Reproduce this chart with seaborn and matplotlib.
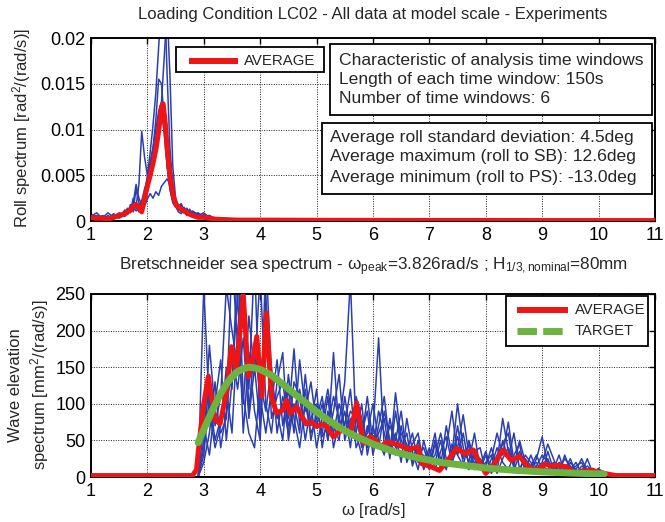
import matplotlib
matplotlib.use("Agg")
import matplotlib.pyplot as plt
import seaborn as sns
import pandas as pd
from matplotlib.lines import Line2D
from matplotlib.patches import Rectangle

# ---------------- DATA ----------------
# Roll spectrum (values in 1e-3 rad^2/(rad/s))
roll_omega = [1.0, 1.1, 1.2, 1.3, 1.4, 1.5, 1.6, 1.65, 1.7, 1.75, 1.8, 1.85, 1.9, 1.95,
              2.0, 2.05, 2.1, 2.15, 2.2, 2.25, 2.3, 2.35, 2.4, 2.45, 2.5, 2.55, 2.6,
              2.65, 2.7, 2.75, 2.8, 2.9, 3.0, 3.1, 3.2]
roll_w1 = [0.8, 0.4, 0.2, 0.6, 0.3, 0.5, 0.9, 0.7, 1.5, 1.0, 2.0, 1.2, 1.8, 3.0, 5.0, 7.5, 10.5,
           14, 19, 24, 26, 16, 8, 4, 2.2, 1.5, 1.8, 1.2, 0.9, 1.3, 0.7, 0.5, 0.3, 0.2, 0.1]
roll_w2 = [0.5, 0.9, 0.3, 0.2, 0.8, 0.4, 1.2, 0.8, 1.1, 2.5, 1.5, 1.0, 2.2, 3.5, 4.5, 6, 8,
           11, 15.5, 15, 11, 6, 3.5, 2, 1.5, 1.8, 1.2, 1.5, 1.0, 0.6, 0.9, 0.8, 0.5, 0.6, 0.2]
roll_w3 = [0.3, 0.6, 0.4, 0.2, 0.5, 0.9, 0.6, 1.0, 1.5, 1.2, 1.6, 4.0, 9.8, 7.0, 5.0, 6.5, 8.0,
           10, 12, 13, 10, 7, 4, 2.5, 1.8, 1.2, 1.6, 0.9, 1.1, 0.7, 0.5, 0.9, 0.4, 0.3, 0.1]
roll_w4 = [0.2, 0.3, 0.5, 0.3, 0.6, 0.3, 0.7, 1.2, 0.9, 1.6, 1.1, 1.4, 2.0, 1.6, 2.4, 3.0, 2.5,
           3.2, 2.8, 3.8, 4.2, 4.6, 4.0, 2.8, 2.0, 1.3, 1.0, 1.4, 0.8, 1.1, 0.6, 0.4, 0.7, 0.3, 0.1]
roll_w5 = [0.4, 0.2, 0.6, 0.4, 0.2, 0.7, 0.5, 0.9, 1.8, 1.3, 3.5, 2.0, 1.5, 2.5, 3.5, 4.5, 6,
           8, 10, 13, 18, 23, 16, 6, 2.5, 1.6, 1.9, 1.1, 1.4, 0.8, 1.0, 0.6, 0.9, 0.4, 0.1]
roll_w6 = [0.6, 0.5, 0.3, 0.9, 0.4, 0.6, 1.0, 1.4, 1.0, 2.0, 4.0, 2.5, 1.8, 2.8, 4.0, 5.5, 7,
           9, 11, 12, 9.5, 6, 3.5, 2.2, 1.6, 1.0, 0.8, 1.2, 0.6, 0.9, 1.1, 0.7, 0.5, 0.6, 0.3]
roll_avg_omega = [1.0, 1.1, 1.2, 1.3, 1.4, 1.5, 1.6, 1.7, 1.75, 1.8, 1.85, 1.9, 1.95, 2.0, 2.05,
                  2.1, 2.15, 2.2, 2.25, 2.28, 2.32, 2.35, 2.4, 2.45, 2.5, 2.55, 2.6, 2.7, 2.8,
                  2.9, 3.0, 3.1, 3.2, 3.4, 3.6, 4.0, 5, 6, 7, 8, 9, 10, 11]
roll_avg = [0.4, 0.3, 0.3, 0.2, 0.4, 0.6, 0.8, 1.2, 1.6, 1.8, 1.5, 1.0, 2.5, 3.8, 5.0, 6.3, 7.8,
            9.8, 12.5, 12.8, 10.5, 8.0, 5.0, 3.0, 1.9, 1.5, 1.3, 0.9, 0.6, 0.4, 0.4, 0.3, 0.2,
            0.15, 0.1, 0.1, 0.08, 0.07, 0.06, 0.06, 0.05, 0.05, 0.05]
roll_unit = 1e-3

# Wave elevation spectrum (mm^2/(rad/s))
wave_omega = [2.9, 3.0, 3.1, 3.2, 3.3, 3.4, 3.5, 3.6, 3.7, 3.8,
              3.9, 4.0, 4.1, 4.2, 4.3, 4.4, 4.5, 4.6, 4.7, 4.8,
              4.9, 5.0, 5.1, 5.2, 5.3, 5.4, 5.5, 5.6, 5.7, 5.8,
              5.9, 6.0, 6.1, 6.2, 6.3, 6.4, 6.5, 6.6, 6.7, 6.8,
              6.9, 7.0, 7.1, 7.2, 7.3, 7.4, 7.5, 7.6, 7.7, 7.8,
              7.9, 8.0, 8.1, 8.2, 8.3, 8.4, 8.5, 8.6, 8.7, 8.8,
              8.9, 9.0, 9.1, 9.2, 9.3, 9.4, 9.5, 9.6, 9.7, 9.8,
              9.9, 10.0, 10.1]
wave_w1 = [0, 260, 90, 40, 70, 150, 120, 300, 110, 60,
           40, 130, 90, 150, 60, 110, 80, 175, 70, 120,
           50, 90, 60, 110, 40, 75, 130, 270, 60, 30,
           70, 40, 90, 60, 30, 115, 50, 35, 60, 20,
           30, 10, 45, 15, 70, 30, 100, 40, 20, 60,
           10, 30, 5, 20, 80, 35, 15, 50, 20, 10,
           25, 55, 15, 10, 30, 5, 20, 10, 5, 25,
           5, 10, 3]
wave_w2 = [0, 40, 140, 70, 110, 260, 200, 150, 280, 120,
           300, 60, 200, 100, 160, 70, 120, 60, 160, 90,
           130, 70, 100, 50, 170, 60, 90, 40, 110, 80,
           40, 60, 190, 40, 70, 50, 90, 30, 45, 60,
           15, 25, 60, 10, 40, 90, 30, 60, 15, 35,
           40, 5, 25, 60, 30, 75, 20, 35, 10, 30,
           10, 20, 45, 25, 5, 30, 10, 15, 20, 5,
           12, 5, 2]
wave_w3 = [0, 20, 60, 130, 40, 90, 300, 180, 100, 220,
           140, 280, 100, 60, 130, 170, 50, 100, 60, 140,
           70, 120, 40, 90, 60, 100, 70, 120, 40, 60,
           90, 30, 70, 110, 40, 60, 20, 80, 35, 10,
           50, 20, 30, 60, 25, 15, 70, 25, 45, 10,
           25, 15, 40, 10, 50, 25, 60, 10, 25, 15,
           30, 10, 25, 5, 20, 15, 5, 10, 25, 8,
           5, 12, 4]
wave_w4 = [0, 70, 30, 100, 160, 50, 130, 250, 60, 170,
           90, 50, 300, 140, 80, 100, 60, 130, 110, 50,
           100, 40, 80, 120, 70, 50, 110, 60, 90, 40,
           60, 100, 50, 30, 80, 40, 60, 45, 20, 50,
           20, 40, 10, 35, 55, 20, 40, 85, 30, 20,
           15, 35, 10, 30, 45, 60, 10, 30, 15, 5,
           15, 30, 20, 15, 10, 25, 15, 5, 10, 15,
           8, 5, 2]
wave_w5 = [0, 30, 110, 50, 80, 120, 60, 200, 280, 90,
           180, 110, 60, 120, 90, 50, 140, 80, 40, 100,
           60, 80, 110, 50, 90, 140, 50, 80, 60, 100,
           30, 70, 40, 90, 50, 30, 70, 20, 40, 30,
           40, 15, 50, 25, 10, 45, 30, 15, 50, 25,
           10, 20, 30, 5, 25, 40, 15, 10, 30, 20,
           5, 15, 10, 20, 5, 10, 25, 5, 15, 10,
           10, 5, 3]
wave_w6 = [0, 50, 180, 90, 60, 80, 170, 120, 190, 80,
           150, 70, 250, 80, 110, 130, 70, 90, 120, 70,
           80, 100, 55, 70, 110, 80, 60, 90, 80, 50,
           110, 45, 60, 80, 25, 90, 40, 60, 15, 40,
           10, 35, 20, 50, 15, 30, 55, 20, 10, 30,
           20, 5, 15, 40, 20, 10, 30, 45, 5, 15,
           20, 5, 35, 10, 15, 5, 10, 20, 5, 10,
           5, 8, 2]
wave_avg_omega = [1.0, 2.0, 2.8, 2.87, 2.93, 3.0, 3.08, 3.2, 3.29, 3.41, 3.49, 3.58, 3.70, 3.79,
                  3.87, 3.94, 4.03, 4.11, 4.2, 4.29, 4.41, 4.47, 4.53, 4.65, 4.72, 4.82, 4.9,
                  5.0, 5.1, 5.18, 5.3, 5.4, 5.48, 5.6, 5.71, 5.83, 5.95, 6.05, 6.13, 6.25, 6.36,
                  6.45, 6.54, 6.65, 6.8, 6.87, 7.03, 7.18, 7.33, 7.48, 7.63, 7.78, 7.93, 8.0,
                  8.15, 8.3, 8.45, 8.6, 8.75, 8.9, 9.05, 9.15, 9.28, 9.43, 9.58, 9.7, 9.88,
                  10.1, 10.3, 11.0]
wave_avg = [2, 2, 2, 10, 55, 100, 137, 78, 73, 119, 178, 146, 249, 137, 160, 192, 110, 224,
            110, 87, 92, 105, 87, 96, 85, 73, 75, 69, 72, 69, 55, 62, 64, 60, 101, 46, 55, 50,
            41, 48, 46, 44, 41, 38, 41, 18, 14, 9, 23, 39, 32, 37, 14, 5, 18, 37, 23, 28, 14,
            9, 18, 15, 16, 14, 5, 8, 9, 5, 2, 2]
target_omega = [2.9, 3.0, 3.1, 3.2, 3.3, 3.4, 3.5, 3.6, 3.7, 3.8, 3.9, 4.0, 4.2, 4.4, 4.6,
                4.8, 5.0, 5.2, 5.4, 5.6, 5.8, 6.0, 6.4, 6.8, 7.2, 7.6, 8.0, 8.5, 9.0, 9.5,
                10.0, 10.1]
target_S = [47, 65, 82, 99, 114, 127, 137, 144, 148, 150, 149, 147, 139, 127, 114, 102, 89,
            78, 68, 59, 52, 45, 34, 26, 20, 16, 12.3, 9.2, 7.0, 5.4, 4.2, 4.0]

x_ticks = [1, 2, 3, 4, 5, 6, 7, 8, 9, 10, 11]
roll_yticks = [0, 0.005, 0.01, 0.015, 0.02]
roll_yticklabels = ["0", "0.005", "0.01", "0.015", "0.02"]
wave_yticks = [0, 50, 100, 150, 200, 250]

# ---------------- STYLE ----------------
sns.set_theme(style="white")
plt.rcParams["font.family"] = ["Liberation Sans", "DejaVu Sans"]
plt.rcParams["mathtext.fontset"] = "custom"
plt.rcParams["mathtext.rm"] = "Liberation Sans"
plt.rcParams["mathtext.it"] = "Liberation Sans:italic"
plt.rcParams["mathtext.default"] = "regular"

BLUE = "#2c3fae"
RED = "#f01414"
GREEN = "#6cb33f"

fig = plt.figure(figsize=(6.65, 5.22), dpi=100)
ax1 = fig.add_axes([0.1368, 0.5766, 0.8481, 0.3506])
ax2 = fig.add_axes([0.1368, 0.0862, 0.8481, 0.3506])

# ---------------- TOP: roll ----------------
roll_df = pd.concat([
    pd.DataFrame({"omega": roll_omega, "S": [v * roll_unit for v in w], "win": i})
    for i, w in enumerate([roll_w1, roll_w2, roll_w3, roll_w4, roll_w5, roll_w6])
])
sns.lineplot(data=roll_df, x="omega", y="S", units="win", estimator=None, sort=False,
             color=BLUE, lw=1.1, ax=ax1, legend=False, zorder=2)
sns.lineplot(x=roll_avg_omega, y=[v * roll_unit for v in roll_avg], sort=False,
             color=RED, lw=3.6, ax=ax1, legend=False, zorder=3)

# ---------------- BOTTOM: wave ----------------
wave_df = pd.concat([
    pd.DataFrame({"omega": wave_omega, "S": w, "win": i})
    for i, w in enumerate([wave_w1, wave_w2, wave_w3, wave_w4, wave_w5, wave_w6])
])
sns.lineplot(data=wave_df, x="omega", y="S", units="win", estimator=None, sort=False,
             color=BLUE, lw=1.1, ax=ax2, legend=False, zorder=2)
sns.lineplot(x=wave_avg_omega, y=wave_avg, sort=False, color=RED, lw=3.6, ax=ax2,
             legend=False, zorder=3)
sns.lineplot(x=target_omega, y=target_S, sort=False, color=GREEN, lw=5, ax=ax2,
             legend=False, zorder=4)

for ax in (ax1, ax2):
    ax.set_xlim(1, 11)
    ax.set_xticks(x_ticks)
    ax.set_xticklabels([str(t) for t in x_ticks])
    ax.set_xlabel("")
    ax.set_ylabel("")
    ax.grid(True, color="#222222", linestyle=(0, (1, 1.5)), lw=0.7)
    ax.tick_params(direction="in", length=4, width=1, top=True, right=True,
                   labelsize=13, pad=4, colors="black")
    for s in ax.spines.values():
        s.set_color("black")
        s.set_linewidth(1.4)
        s.set_visible(True)
    ax.set_facecolor("white")

ax1.set_ylim(0, 0.02)
ax1.set_yticks(roll_yticks)
ax1.set_yticklabels(roll_yticklabels)
ax2.set_ylim(0, 250)
ax2.set_yticks(wave_yticks)
ax2.set_yticklabels([str(t) for t in wave_yticks])

# titles and labels
fig.text(0.561, 0.973, "Loading Condition LC02 - All data at model scale - Experiments",
         ha="center", va="center", fontsize=12)
fig.text(0.561, 0.49,
         r"Bretschneider sea spectrum - $\omega_{\mathrm{peak}}$=3.826rad/s ; H$_{\mathrm{1/3,nominal}}$=80mm",
         ha="center", va="center", fontsize=12.3)
fig.text(0.033, 0.755, r"Roll spectrum [rad$^2$/(rad/s)]", rotation=90,
         ha="center", va="center", fontsize=12)
fig.text(0.024, 0.262, "Wave elevation", rotation=90, ha="center", va="center", fontsize=12)
fig.text(0.060, 0.262, r"spectrum [mm$^2$/(rad/s)]", rotation=90, ha="center", va="center",
         fontsize=12)
fig.text(0.561, 0.022, r"$\omega$ [rad/s]", ha="center", va="center", fontsize=12)

# top legend box
ax1.add_patch(Rectangle((0.151, 0.814), 0.262, 0.137, transform=ax1.transAxes,
                        facecolor="white", edgecolor="black", lw=1.3, zorder=10))
ax1.add_line(Line2D([0.173, 0.260], [0.877, 0.877], transform=ax1.transAxes,
                    color=RED, lw=4.3, zorder=11, solid_capstyle="butt"))
ax1.text(0.272, 0.877, "AVERAGE", transform=ax1.transAxes, ha="left", va="center",
         fontsize=10.8, zorder=11)

# info boxes
ax1.add_patch(Rectangle((0.424, 0.577), 0.571, 0.390, transform=ax1.transAxes,
                        facecolor="white", edgecolor="black", lw=1.3, zorder=10))
for yy, txt in zip([0.877, 0.773, 0.671],
                   ["Characteristic of analysis time windows",
                    "Length of each time window: 150s",
                    "Number of time windows: 6"]):
    ax1.text(0.439, yy, txt, transform=ax1.transAxes, ha="left", va="center",
             fontsize=12.6, zorder=11)
ax1.add_patch(Rectangle((0.410, 0.148), 0.585, 0.388, transform=ax1.transAxes,
                        facecolor="white", edgecolor="black", lw=1.3, zorder=10))
for yy, txt in zip([0.459, 0.350, 0.240],
                   ["Average roll standard deviation: 4.5deg",
                    "Average maximum (roll to SB): 12.6deg",
                    "Average minimum (roll to PS): -13.0deg"]):
    ax1.text(0.424, yy, txt, transform=ax1.transAxes, ha="left", va="center",
             fontsize=12.6, zorder=11)

# bottom legend box
ax2.add_patch(Rectangle((0.736, 0.716), 0.252, 0.275, transform=ax2.transAxes,
                        facecolor="white", edgecolor="black", lw=1.3, zorder=10))
ax2.add_line(Line2D([0.755, 0.846], [0.913, 0.913], transform=ax2.transAxes,
                    color=RED, lw=4.3, zorder=11, solid_capstyle="butt"))
ax2.add_line(Line2D([0.755, 0.846], [0.798, 0.798], transform=ax2.transAxes,
                    color=GREEN, lw=5, zorder=11, dashes=(2.8, 0.9), dash_capstyle="butt"))
ax2.text(0.858, 0.913, "AVERAGE", transform=ax2.transAxes, ha="left", va="center",
         fontsize=10.6, zorder=11)
ax2.text(0.858, 0.798, "TARGET", transform=ax2.transAxes, ha="left", va="center",
         fontsize=10.6, zorder=11)

fig.savefig("out.png", dpi=100, facecolor="white")
